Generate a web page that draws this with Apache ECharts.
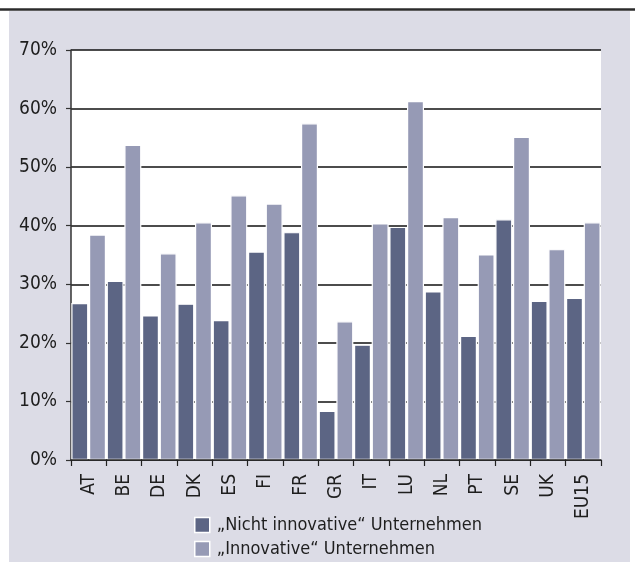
<!DOCTYPE html>
<html>
<head>
<meta charset="utf-8">
<script src="https://cdn.jsdelivr.net/npm/echarts@6/dist/echarts.min.js"></script>
<style>
  html, body { margin: 0; padding: 0; background: #ffffff; }
  #main { width: 635px; height: 562px; }
</style>
</head>
<body>
<div id="main"></div>
<script>
const countries = ['AT', 'BE', 'DE', 'DK', 'ES', 'FI', 'FR', 'GR', 'IT', 'LU', 'NL', 'PT', 'SE', 'UK', 'EU15'];
const nichtInnovativ = [26.8, 30.6, 24.7, 26.7, 23.9, 35.6, 38.9, 8.4, 19.7, 39.8, 28.8, 21.2, 41.1, 27.2, 27.7];
const innovativ = [38.5, 53.8, 35.3, 40.6, 45.2, 43.8, 57.5, 23.7, 40.4, 61.3, 41.5, 35.1, 55.2, 36.0, 40.6];
const seriesNames = ['\u201ENicht innovative\u201C Unternehmen', '\u201EInnovative\u201C Unternehmen'];

const font = '"DejaVu Sans Condensed", "Liberation Sans Narrow", sans-serif';
const dark = '#5c6584';
const light = '#969ab5';

let chart = echarts.init(document.getElementById('main'));

let option = {
    animation: false,
    backgroundColor: '#ffffff',
    graphic: [
        { type: 'rect', z: -10, shape: { x: 9, y: 11, width: 621, height: 551 }, style: { fill: '#dcdce6' } },
        { type: 'rect', z: -9, shape: { x: 71, y: 50, width: 530, height: 410 }, style: { fill: '#ffffff' } },
        { type: 'line', z: -8, shape: { x1: 0, y1: 9.5, x2: 635, y2: 9.5 }, style: { stroke: '#2b2b2b', lineWidth: 2.5 } }
    ],
    grid: { left: 71, right: 34, top: 50, bottom: 102 },
    legend: {
        orient: 'vertical',
        left: 194,
        top: 516,
        height: 46,
        padding: 0,
        itemWidth: 15,
        itemHeight: 15,
        itemGap: 6,
        icon: 'rect',
        itemStyle: { borderColor: '#ffffff', borderWidth: 1.5 },
        textStyle: { fontFamily: font, fontSize: 18, lineHeight: 18, color: '#1e1e1e', padding: [0, 0, 0, 2] },
        data: seriesNames
    },
    xAxis: {
        type: 'category',
        data: countries,
        z: 10,
        axisLine: { lineStyle: { color: '#222222', width: 1.5 } },
        axisTick: { show: true, length: 6, lineStyle: { color: '#222222', width: 1.2 } },
        axisLabel: { rotate: 90, margin: 14, fontFamily: font, fontSize: 19, color: '#1e1e1e' }
    },
    yAxis: {
        type: 'value',
        min: 0,
        max: 70,
        interval: 10,
        axisLine: { show: true, lineStyle: { color: '#333333', width: 1.5 } },
        axisTick: { show: true, length: 5, lineStyle: { color: '#333333', width: 1.2 } },
        axisLabel: { margin: 14, fontFamily: font, fontSize: 19, color: '#1e1e1e', formatter: '{value}%' },
        splitLine: { lineStyle: { color: '#111111', width: 1.5 } }
    },
    series: [{
        name: seriesNames[0],
        type: 'bar',
        data: nichtInnovativ,
        barWidth: 17,
        barGap: '4%',
        itemStyle: { color: dark, borderColor: '#ffffff', borderWidth: 1.2 }
    }, {
        name: seriesNames[1],
        type: 'bar',
        data: innovativ,
        barWidth: 17,
        barGap: '4%',
        itemStyle: { color: light, borderColor: '#ffffff', borderWidth: 1.2 }
    }]
};

chart.setOption(option);
</script>
</body>
</html>
